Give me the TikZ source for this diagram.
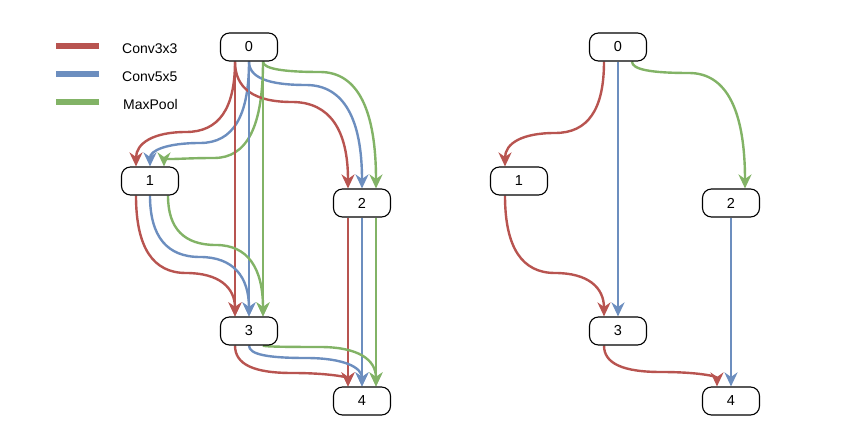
\documentclass[tikz,border=0pt]{standalone}
\usepackage{fontspec}
\setmainfont{Liberation Sans}
\usepackage{xcolor}
\usepackage{tikz}
\usetikzlibrary{arrows.meta, positioning, calc, backgrounds}

\definecolor{convred}{HTML}{B85450}
\definecolor{convblue}{HTML}{6C8EBF}
\definecolor{poolgreen}{HTML}{82B366}

\begin{document}
\begin{tikzpicture}[
  x=1pt, y=-1pt,
  cell/.style={draw, fill=white, rounded corners=9pt, line width=1.1pt,
    minimum width=57pt, minimum height=28pt, inner sep=0pt,
    font=\fontsize{14.5}{16}\selectfont},
  link/.style={line width=2.4pt, -{Stealth[length=14pt, width=13pt, inset=4.5pt]}},
  conv3/.style={link, convred},
  conv5/.style={link, convblue},
  pool/.style={link, poolgreen},
  key/.style={line width=6pt},
  keytext/.style={anchor=west, inner sep=0pt, font=\fontsize{14}{16}\selectfont},
]
\useasboundingbox (0,0) rectangle (855,443);

%% Legend
\node[keytext] (k3) at (122,49) {Conv3x3};
\node[keytext] (k5) at (122,77) {Conv5x5};
\node[keytext] (kp) at (123,105) {MaxPool};
\draw[key, convred] ([xshift=-23pt, yshift=3pt]k3.west) -- ++(-43,0);
\draw[key, convblue] ([xshift=-23pt, yshift=3pt]k5.west) -- ++(-43,0);
\draw[key, poolgreen] ([xshift=-24pt, yshift=3pt]kp.west) -- ++(-43,0);

%% Left: all candidate ops
\node[cell] (a0) at (249,47) {0};
\node[cell] (a1) at (150,181) {1};
\node[cell] (a2) at (362,203) {2};
\node[cell] (a3) at (249,331) {3};
\node[cell] (a4) at (362,401) {4};

%% Right: one chosen op per edge
\node[cell] (b0) at (618,47) {0};
\node[cell] (b1) at (519,181) {1};
\node[cell] (b2) at (731,203) {2};
\node[cell] (b3) at (618,331) {3};
\node[cell] (b4) at (731,401) {4};

\begin{scope}[on background layer]
%% 0 -> 1
\draw[conv3] ([xshift=-14pt]a0.south) .. controls +(0,47) and +(33,0) .. (186,132)
  .. controls +(-33,0) and +(0,-23) .. ([xshift=-14pt]a1.north);
\draw[conv5] (a0.south) .. controls +(0,55) and +(33,0) .. (200,143)
  .. controls +(-33,0) and +(0,-16) .. (a1.north);
\draw[pool] ([xshift=14pt]a0.south) .. controls +(0,65) and +(33,0) .. (214,158)
  .. controls +(-33,0) and +(0,-6) .. ([xshift=14pt]a1.north);

%% 0 -> 2
\draw[conv3] ([xshift=-14pt]a0.south) .. controls +(0,27) and +(-38,0) .. (292,102)
  .. controls +(38,0) and +(0,-58) .. ([xshift=-14pt]a2.north);
\draw[conv5] (a0.south) .. controls +(0,16) and +(-38,0) .. (306,85)
  .. controls +(38,0) and +(0,-69) .. (a2.north);
\draw[pool] ([xshift=14pt]a0.south) .. controls +(0,7) and +(-38,0) .. (320,72)
  .. controls +(38,0) and +(0,-78) .. ([xshift=14pt]a2.north);

%% 0 -> 3
\draw[conv3] ([xshift=-14pt]a0.south) -- ([xshift=-14pt]a3.north);
\draw[conv5] (a0.south) -- (a3.north);
\draw[pool] ([xshift=14pt]a0.south) -- ([xshift=14pt]a3.north);

%% 1 -> 3
\draw[conv3] ([xshift=-14pt]a1.south) .. controls +(0,52) and +(-33,0) .. (186,273)
  .. controls +(33,0) and +(0,-29) .. ([xshift=-14pt]a3.north);
\draw[conv5] (a1.south) .. controls +(0,41) and +(-33,0) .. (200,257)
  .. controls +(33,0) and +(0,-40) .. (a3.north);
\draw[pool] ([xshift=18pt]a1.south) .. controls +(0,33) and +(-32,0) .. (216,245)
  .. controls +(32,0) and +(0,-48) .. ([xshift=14pt]a3.north);

%% 2 -> 4
\draw[conv3] ([xshift=-14pt]a2.south) -- ([xshift=-14pt]a4.north);
\draw[conv5] (a2.south) -- (a4.north);
\draw[pool] ([xshift=14pt]a2.south) -- ([xshift=14pt]a4.north);

%% 3 -> 4
\draw[conv3] ([xshift=-14pt]a3.south) .. controls +(0,19) and +(-38,0) .. (292,373)
  .. controls +(38,0) and +(0,-9) .. ([xshift=-14pt]a4.north);
\draw[conv5] (a3.south) .. controls +(0,9) and +(-38,0) .. (306,358)
  .. controls +(38,0) and +(0,-19) .. (a4.north);
\draw[pool] ([xshift=14pt]a3.south) .. controls +(0,1) and +(-38,0) .. (320,347)
  .. controls +(38,0) and +(0,-27) .. ([xshift=14pt]a4.north);

%% Right edges
\draw[conv3] ([xshift=-14pt]b0.south) .. controls +(0,48) and +(33,0) .. (555,133)
  .. controls +(-33,0) and +(0,-23) .. ([xshift=-14pt]b1.north);
\draw[conv5] (b0.south) -- (b3.north);
\draw[pool] ([xshift=14pt]b0.south) .. controls +(0,8) and +(-38,0) .. (689,73)
  .. controls +(38,0) and +(0,-77) .. ([xshift=14pt]b2.north);
\draw[conv3] ([xshift=-14pt]b1.south) .. controls +(0,52) and +(-33,0) .. (555,273)
  .. controls +(33,0) and +(0,-29) .. ([xshift=-14pt]b3.north);
\draw[conv5] (b2.south) -- (b4.north);
\draw[conv3] ([xshift=-14pt]b3.south) .. controls +(0,18) and +(-38,0) .. (661,372)
  .. controls +(38,0) and +(0,-10) .. ([xshift=-14pt]b4.north);
\end{scope}

\end{tikzpicture}
\end{document}
